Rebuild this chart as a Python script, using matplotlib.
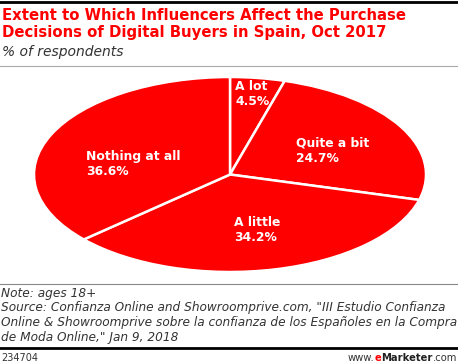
import matplotlib
matplotlib.use("Agg")
import matplotlib.pyplot as plt

categories = ["A lot", "Quite a bit", "A little", "Nothing at all"]
values = [4.5, 24.7, 34.2, 36.6]
# label anchor positions (fraction of pie radius, in data coords of the unit pie)
label_pos = [(0.026, 0.826), (0.337, 0.246), (0.02, -0.574), (-0.735, 0.108)]

W, H = 458, 364
fig = plt.figure(figsize=(W / 100, H / 100), dpi=100)
fig.patch.set_facecolor("white")

RED = "#ff0000"

def fx(px):
    return px / W

def fy(py):
    return 1 - py / H

# pie axes spanning the ellipse bbox
x0, x1 = 34, 426
y0, y1 = 77, 272
ax = fig.add_axes([fx(x0), fy(y1), (x1 - x0) / W, (y1 - y0) / H])
wedges, _ = ax.pie(values, startangle=90, counterclock=False,
                   colors=[RED] * len(values),
                   wedgeprops=dict(edgecolor="white", linewidth=1.8))
ax.set_aspect("auto")
ax.set_xlim(-1, 1)
ax.set_ylim(-1, 1)
ax.axis("off")

for cat, val, (lx, ly) in zip(categories, values, label_pos):
    ax.text(lx, ly, f"{cat}\n{val:.1f}%", color="white", fontsize=8.9,
            fontweight="bold", ha="left", va="center", linespacing=1.2,
            family="DejaVu Sans")

# header
fig.add_artist(plt.Line2D([0, 1], [fy(1.5), fy(1.5)], color="black", lw=2))
fig.text(fx(2), fy(15), "Extent to Which Influencers Affect the Purchase",
         color=RED, fontsize=10.7, fontweight="bold", va="center", ha="left")
fig.text(fx(2), fy(33), "Decisions of Digital Buyers in Spain, Oct 2017",
         color=RED, fontsize=10.7, fontweight="bold", va="center", ha="left")
fig.text(fx(2), fy(52), "% of respondents", color="#333333", fontsize=10,
         style="italic", va="center", ha="left")
fig.add_artist(plt.Line2D([0, 1], [fy(66), fy(66)], color="#aaaaaa", lw=0.8))

# footer
fig.add_artist(plt.Line2D([0, 1], [fy(284), fy(284)], color="#888888", lw=0.8))
foot = ["Note: ages 18+",
        "Source: Confianza Online and Showroomprive.com, \"III Estudio Confianza",
        "Online & Showroomprive sobre la confianza de los Españoles en la Compra",
        "de Moda Online,\" Jan 9, 2018"]
for i, line in enumerate(foot):
    fig.text(fx(1), fy(293 + i * 14.8), line, color="#333333", fontsize=8.7,
             style="italic", va="center", ha="left")
fig.add_artist(plt.Line2D([0, 1], [fy(348), fy(348)], color="black", lw=2))
fig.text(fx(1), fy(358), "234704", color="#333333", fontsize=7, va="center", ha="left")
# eMarketer logo text composed right-to-left
t1 = fig.text(fx(457), fy(358), ".com", color="#333333", fontsize=7.2,
              va="center", ha="right")
fig.canvas.draw()
r = fig.canvas.get_renderer()
bb = t1.get_window_extent(r)
t2 = fig.text(bb.x0 / W, fy(358), "Marketer", color="#222222", fontsize=7.2,
              fontweight="bold", va="center", ha="right")
bb2 = t2.get_window_extent(r)
t3 = fig.text(bb2.x0 / W, fy(358), "e", color=RED, fontsize=7.2,
              fontweight="bold", va="center", ha="right")
bb3 = t3.get_window_extent(r)
fig.text(bb3.x0 / W, fy(358), "www.", color="#333333", fontsize=7.2,
         va="center", ha="right")

fig.savefig("out.png", dpi=100, facecolor="white")
